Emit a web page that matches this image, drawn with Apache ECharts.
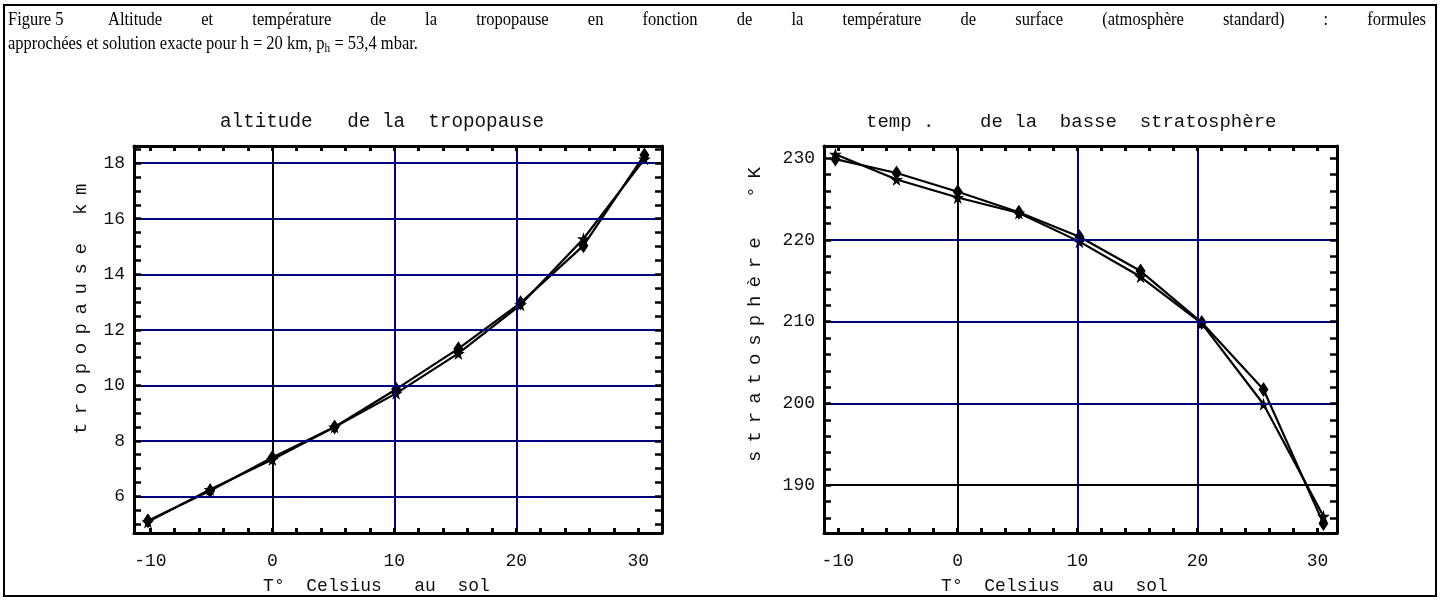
<!DOCTYPE html>
<html><head><meta charset="utf-8">
<script src="https://cdn.jsdelivr.net/npm/echarts@6/dist/echarts.min.js"></script>
<style>html,body{margin:0;padding:0;background:#fff}#c{width:1440px;height:600px}</style>
</head><body><div id="c"></div>
<script>
// ---- data ----
const temps = [-10.2, -5.1, 0, 5.1, 10.15, 15.25, 20.35, 25.5, 30.5];
const altApprox = [5.12, 6.2, 7.4, 8.5, 9.86, 11.32, 12.97, 15.03, 18.3];
const altExact = [5.08, 6.25, 7.33, 8.5, 9.71, 11.15, 12.9, 15.28, 18.15];
const stratApprox = [229.9, 228.2, 225.9, 223.4, 220.4, 216.2, 209.9, 201.7, 185.3];
const stratExact = [230.5, 227.4, 225.2, 223.3, 219.8, 215.5, 209.8, 199.9, 186.2];

// ---- ticks & grid lines ----
const xTickLabels = [-10, 0, 10, 20, 30];
const xMinorTicks = [-10, -8, -6, -4, -2, 0, 2, 4, 6, 8, 10, 12, 14, 16, 18, 20, 22, 24, 26, 28, 30];
const altTickLabels = [6, 8, 10, 12, 14, 16, 18];
const altMinorTicks = [5, 5.5, 6, 6.5, 7, 7.5, 8, 8.5, 9, 9.5, 10, 10.5, 11, 11.5, 12, 12.5, 13, 13.5, 14, 14.5, 15, 15.5, 16, 16.5, 17, 17.5, 18, 18.5];
const stratTickLabels = [190, 200, 210, 220, 230];
const stratMinorTicks = [186, 188, 190, 192, 194, 196, 198, 200, 202, 204, 206, 208, 210, 212, 214, 216, 218, 220, 222, 224, 226, 228, 230];
const xGridNavy = [10, 20];
const xGridBlack = [0];
const altGridNavy = [6, 8, 10, 12, 14, 16, 18];
const stratGridNavy = [200, 210, 220];
const stratGridBlack = [190];

// ---- texts ----
const captionLabel = 'Figure 5';
const captionLine1 = ['Altitude','et','température','de','la','tropopause','en','fonction','de','la','température','de','surface','(atmosphère','standard)',':','formules'];
const captionLine2a = 'approchées et solution exacte pour h = 20 km, p';
const captionSub = 'h';
const captionLine2b = ' = 53,4 mbar.';
const title1 = 'altitude   de la  tropopause';
const title2 = 'temp .    de la  basse  stratosphère';
const xName = 'T°  Celsius   au  sol';
const yName1 = 'tropopause km';
const yName2 = 'stratosphère  °K';

const mono = '"Liberation Mono", "DejaVu Sans Mono", monospace';
const serif = '"Liberation Serif", "Times New Roman", serif';
const navy = '#00007f';
const txtColor = '#111';

function zip(xs, ys) { return xs.map((x, i) => [x, ys[i]]); }
function spaced(str) {
  return str.split('').map(c => c === ' ' ? '{w| }' : c).join('{s| }');
}
const starPath = 'path://M50,0 L61,35 L98,35 L68,57 L79,91 L50,70 L21,91 L32,57 L2,35 L39,35 Z';

// caption layout (condensed serif, justified first line)
const capFont = '19px ' + serif;
const subFont = '13px ' + serif;
const ctx = document.createElement('canvas').getContext('2d');
const graphics = [];
graphics.push({type:'rect', shape:{x:4, y:5, width:1432, height:591}, style:{fill:'none', stroke:'#000', lineWidth:2}, silent:true});
(function(){
  ctx.font = capFont;
  const w2a = ctx.measureText(captionLine2a).width;
  const w2b = ctx.measureText(captionLine2b).width;
  ctx.font = subFont;
  const wsub = ctx.measureText(captionSub).width;
  const sx = 410 / (w2a + wsub + w2b);
  function t(x, y, text, font) {
    graphics.push({type:'text', x:x, y:y, scaleX:sx, style:{text:text, font:font, fill:'#000', verticalAlign:'middle'}});
  }
  ctx.font = capFont;
  t(8, 20, captionLabel, capFont);
  const L = 108, R = 1426;
  const widths = captionLine1.map(w => ctx.measureText(w).width * sx);
  const tot = widths.reduce((a,b)=>a+b,0);
  const gap = (R - L - tot) / (captionLine1.length - 1);
  let x = L;
  captionLine1.forEach((w, i) => { t(x, 20, w, capFont); x += widths[i] + gap; });
  t(8, 44, captionLine2a, capFont);
  t(8 + w2a * sx, 48.5, captionSub, subFont);
  t(8 + (w2a + wsub) * sx, 44, captionLine2b, capFont);
})();

const grids = [
  {left:134, top:146, width:528, height:388, show:false},
  {left:824, top:146, width:513, height:388, show:false}
];
const xRanges = [[-11.34, 31.94], [-11.15, 31.63]];
const yRanges = [[4.68, 18.62], [184.15, 231.5]];

function frameLine() { return {show:true, onZero:false, lineStyle:{color:'#000', width:3}}; }

const xAxes = [], yAxes = [];
[0, 1].forEach(g => {
  const [xmin, xmax] = xRanges[g];
  xAxes.push({
    type:'value', gridIndex:g, position:'bottom', min:xmin, max:xmax, z:5,
    axisLine:frameLine(),
    axisTick:{show:true, inside:true, length:5, customValues:xMinorTicks, lineStyle:{color:'#000', width:3}},
    axisLabel:{show:true, customValues:xTickLabels, margin:19, color:txtColor, fontFamily:mono, fontSize:18},
    splitLine:{show:false},
    name:xName, nameLocation:'middle', nameGap:44,
    nameTextStyle:{fontFamily:mono, fontSize:18, color:txtColor, padding:[0, g === 0 ? 43 : 52, 0, 0]}
  });
  xAxes.push({
    type:'value', gridIndex:g, position:'top', min:xmin, max:xmax, z:5,
    axisLine:frameLine(),
    axisTick:{show:true, inside:true, length:5, customValues:xMinorTicks, lineStyle:{color:'#000', width:3}},
    axisLabel:{show:false}, splitLine:{show:false}
  });
  const [ymin, ymax] = yRanges[g];
  const minor = g === 0 ? altMinorTicks : stratMinorTicks;
  const labs = g === 0 ? altTickLabels : stratTickLabels;
  yAxes.push({
    type:'value', gridIndex:g, position:'left', min:ymin, max:ymax, z:5,
    axisLine:frameLine(),
    axisTick:{show:true, inside:true, length:7, customValues:minor, lineStyle:{color:'#000', width:2.5}},
    axisLabel:{show:true, customValues:labs, margin:9, color:txtColor, fontFamily:mono, fontSize:18},
    splitLine:{show:false},
    name:spaced(g === 0 ? yName1 : yName2), nameLocation:'middle', nameRotate:90, nameGap:g === 0 ? 44 : 60,
    nameTextStyle:{fontFamily:mono, fontSize:19, color:txtColor, padding:[0, 0, 0, g === 0 ? 61 : 50],
      rich:{s:{fontFamily:mono, fontSize: g === 0 ? 14.3 : 13.3}, w:{fontFamily:mono, fontSize: g === 0 ? 18 : 13}}}
  });
  yAxes.push({
    type:'value', gridIndex:g, position:'right', min:ymin, max:ymax, z:5,
    axisLine:frameLine(),
    axisTick:{show:true, inside:true, length:7, customValues:minor, lineStyle:{color:'#000', width:2.5}},
    axisLabel:{show:false}, splitLine:{show:false}
  });
});

function gridSeries(g, xNavy, xBlack, yNavy, yBlack, baseData) {
  const d = [];
  xNavy.forEach(v => d.push({xAxis:v, lineStyle:{color:navy, width:2, type:'solid'}}));
  yNavy.forEach(v => d.push({yAxis:v, lineStyle:{color:navy, width:2, type:'solid'}}));
  xBlack.forEach(v => d.push({xAxis:v, lineStyle:{color:'#000', width:2, type:'solid'}}));
  yBlack.forEach(v => d.push({yAxis:v, lineStyle:{color:'#000', width:2, type:'solid'}}));
  return {
    type:'line', xAxisIndex:2*g, yAxisIndex:2*g, data:baseData, symbol:'none',
    lineStyle:{opacity:0, width:0}, silent:true, z:1,
    markLine:{silent:true, symbol:'none', label:{show:false}, animation:false, data:d}
  };
}
function dataSeries(g, ys, sym, size, name) {
  return {
    name:name, type:'line', xAxisIndex:2*g, yAxisIndex:2*g, data:zip(temps, ys),
    symbol:sym, symbolSize:size, showSymbol:true,
    lineStyle:{color:'#000', width:2.2}, itemStyle:{color:'#000'}, z:3
  };
}

const option = {
  animation:false,
  backgroundColor:'#fff',
  title:[
    {text:title1, left:220, top:112, padding:0, textStyle:{fontFamily:mono, fontSize:19.3, fontWeight:'normal', color:txtColor}},
    {text:title2, left:866, top:112, padding:0, textStyle:{fontFamily:mono, fontSize:19, fontWeight:'normal', color:txtColor}}
  ],
  grid:grids,
  xAxis:xAxes,
  yAxis:yAxes,
  graphic:graphics,
  series:[
    gridSeries(0, xGridNavy, xGridBlack, altGridNavy, [], zip(temps, altApprox)),
    dataSeries(0, altApprox, 'diamond', [10, 15], 'approx'),
    dataSeries(0, altExact, starPath, 13, 'exact'),
    gridSeries(1, xGridNavy, xGridBlack, stratGridNavy, stratGridBlack, zip(temps, stratApprox)),
    dataSeries(1, stratApprox, 'diamond', [10, 15], 'approx'),
    dataSeries(1, stratExact, starPath, 13, 'exact')
  ]
};
echarts.init(document.getElementById('c')).setOption(option);
</script></body></html>
